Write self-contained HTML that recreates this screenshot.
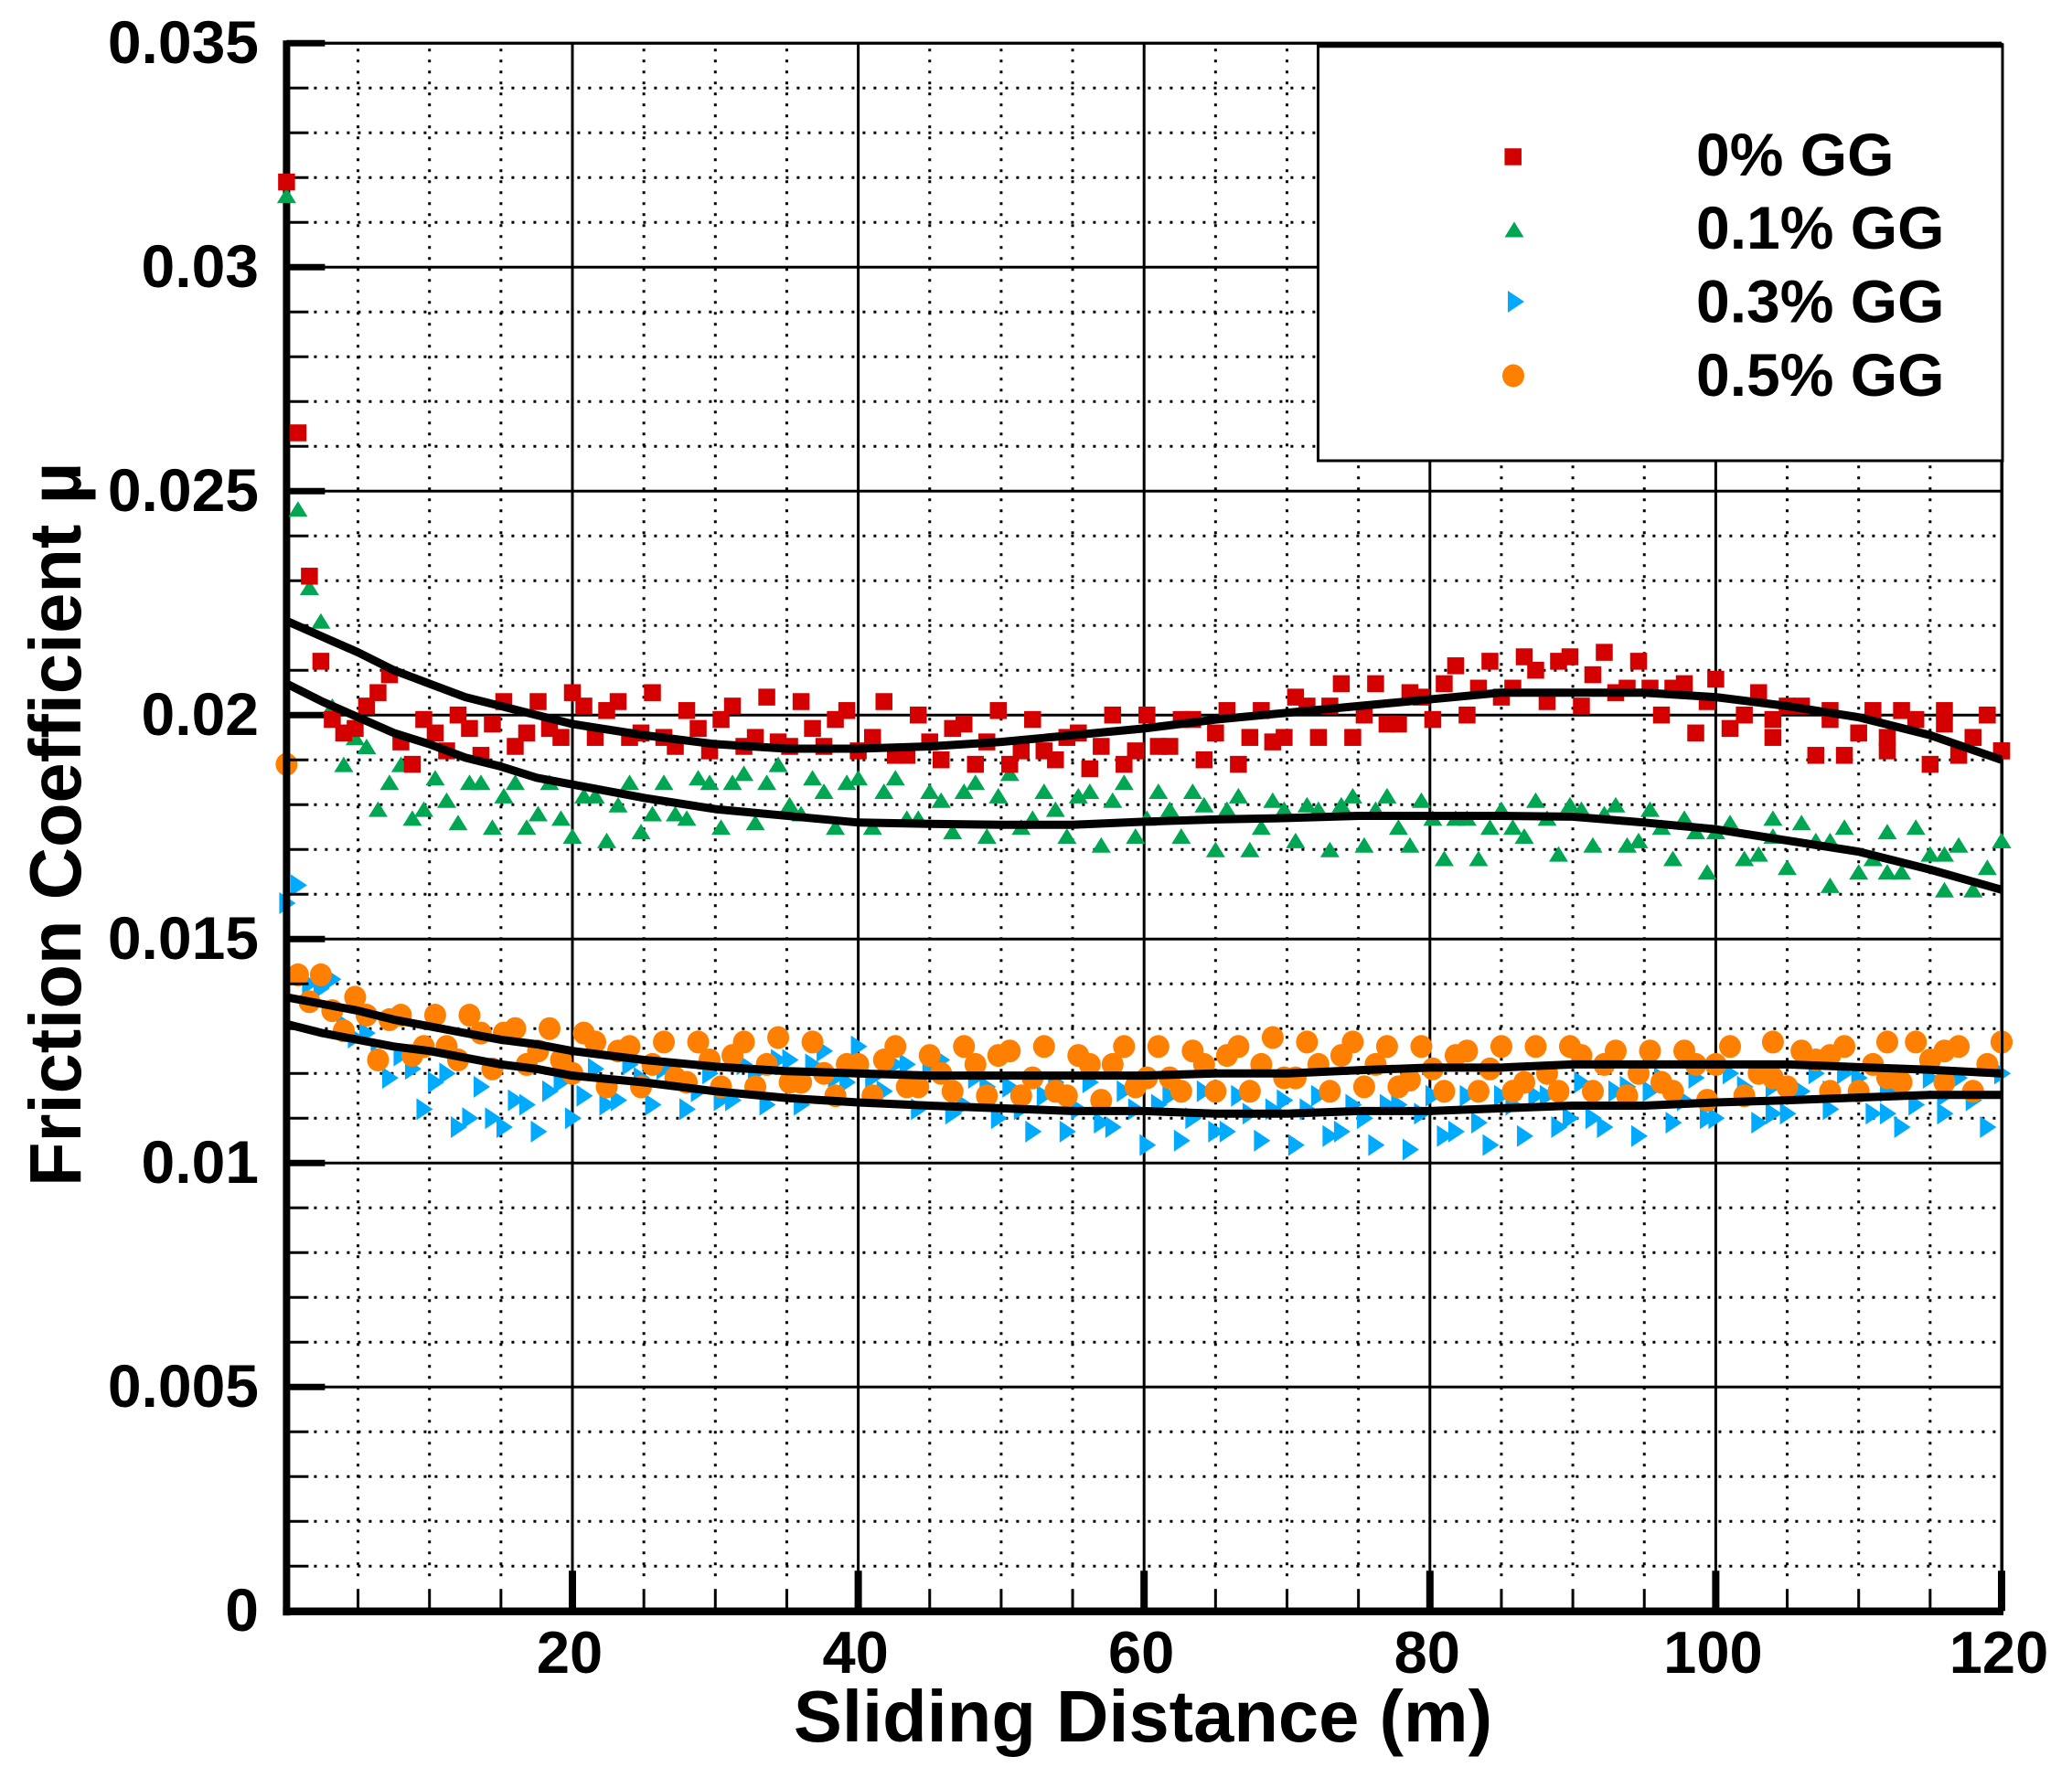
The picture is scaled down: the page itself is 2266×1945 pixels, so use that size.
<!DOCTYPE html>
<html lang="en">
<head>
<meta charset="utf-8">
<title>Friction Coefficient vs Sliding Distance</title>
<style>
html,body{margin:0;padding:0;background:#fff;}
#chart{display:block;width:2266px;height:1945px;font-family:"Liberation Sans",Arial,sans-serif;font-weight:bold;fill:#000;}
</style>
</head>
<body>
<svg id="chart" xmlns="http://www.w3.org/2000/svg" width="2266" height="1945" viewBox="0 0 2266 1945"></svg>
<script>
// Values below are in units of 10^-3 of the friction coefficient.
const distance = [0,0.8,1.6,2.4,3.2,4,4.8,5.6,6.4,7.2,8,8.8,9.6,10.4,11.2,12,12.8,13.6,14.4,15.2,16,16.8,17.6,18.4,19.2,20,20.8,21.6,22.4,23.2,24,24.8,25.6,26.4,27.2,28,28.8,29.6,30.4,31.2,32,32.8,33.6,34.4,35.2,36,36.8,37.6,38.4,39.2,40,
41,41.8,42.6,43.4,44.2,45,45.8,46.6,47.4,48.2,49,49.8,50.6,51.4,52.2,53,53.8,54.6,55.4,56.2,57,57.8,58.6,59.4,60.2,61,61.8,62.6,63.4,64.2,65,65.8,66.6,67.4,68.2,69,69.8,70.6,71.4,72.2,73,73.8,74.6,75.4,76.2,77,77.8,78.6,79.4,80.2,81,81.8,82.6,83.4,84.2,85,85.8,86.6,87.4,88.2,89,89.8,90.6,91.4,92.2,93,93.8,94.6,95.4,96.2,97,97.8,98.6,99.4,
100,101,102,103,104,104,105,106,107,108,108,109,110,111,112,112,113,114,115,116,116,117,118,119,120,120];
const gg0Values = [31.9,26.3,23.1,21.2,19.9,19.6,19.7,20.2,20.5,20.9,
19.4,18.9,19.9,19.6,19.2,20.0,19.7,19.1,19.8,20.3,
19.3,19.6,20.3,19.7,19.5,20.5,20.2,19.5,20.1,20.3,
19.5,19.6,20.5,19.5,19.3,20.1,19.7,19.2,19.9,20.2,
19.3,19.5,20.4,19.4,19.3,20.3,19.7,19.3,19.9,20.1,
19.2,19.5,20.3,19.1,19.1,20.0,19.4,19.0,19.7,19.8,
18.9,19.4,20.1,18.9,19.2,19.9,19.2,19.0,19.5,19.6,
18.8,19.3,20.0,18.9,19.2,20.0,19.3,19.3,19.9,19.9,
19.0,19.6,20.1,18.9,19.5,20.1,19.4,19.5,20.4,20.2,
19.5,20.2,20.7,19.5,20.0,20.7,19.8,19.8,20.5,20.4,
19.9,20.7,21.1,20.0,20.6,21.2,20.4,20.6,21.3,21.0,
20.3,21.2,21.3,20.2,20.9,21.4,20.5,20.6,21.2,20.6,
20.0,20.6,20.7,19.6,20.3,20.8,19.7,20.0,20.5,19.9,
19.5,20.2,20.2,19.1,20.1,19.9,19.1,19.6,20.1,19.5,
19.2,20.1,19.9,18.9,20.1,19.8,19.1,19.5,20.0,19.2,19.2];
const gg01Values = [31.6,24.6,22.85,22.1,20.2,18.9,19.5,19.3,17.9,18.5,
18.9,17.7,17.9,18.6,18.1,17.6,18.5,18.5,17.5,18.2,
18.5,17.5,17.8,18.5,17.7,17.3,18.2,18.2,17.2,18.0,
18.5,17.4,17.8,18.5,17.8,17.7,18.6,18.5,17.5,18.5,
18.7,17.6,18.5,18.9,18.0,17.8,18.6,18.3,17.5,18.5,
18.6,17.5,18.3,18.6,17.7,17.7,18.3,18.1,17.4,18.3,
18.5,17.3,18.2,18.7,17.5,17.7,18.3,17.9,17.3,18.2,
18.3,17.1,18.1,18.5,17.3,17.7,18.3,17.9,17.3,18.3,
18.0,17.0,17.9,18.2,17.0,17.5,18.1,17.9,17.2,18.0,
17.9,17.0,18.0,18.2,17.1,17.9,18.2,17.5,17.1,18.1,
17.7,16.8,17.7,17.7,16.8,17.5,17.9,17.5,17.3,18.1,
17.7,16.9,18.0,17.9,17.1,17.8,18.0,17.1,17.2,17.9,
17.5,16.8,17.7,17.4,16.5,17.4,17.6,16.8,16.9,17.7,
17.3,16.6,17.6,17.2,17.2,16.2,17.5,16.5,16.8,17.4,
16.5,16.5,17.5,16.9,16.9,16.1,17.1,16.1,16.6,17.2,17.2];
const gg03Values = [15.8,16.2,14.0,13.9,14.1,13.1,12.8,12.9,12.4,11.9,
12.4,12.1,11.2,11.8,12.0,10.8,11.0,11.7,11.0,10.8,
11.4,11.3,10.7,11.6,11.8,11.0,11.5,12.1,11.3,11.4,
12.2,11.9,11.3,12.1,12.0,11.2,11.6,12.0,11.4,11.4,
12.2,12.0,11.3,12.3,12.3,11.3,12.2,12.5,11.9,11.8,
12.6,11.9,11.6,12.2,12.2,11.2,12.1,12.3,11.1,11.3,
11.9,11.7,11.0,11.7,11.2,10.7,11.5,11.8,10.7,11.2,
11.8,10.9,10.8,11.6,11.2,10.4,11.3,11.5,10.5,11.0,
11.6,10.7,10.7,11.5,11.1,10.5,11.2,11.4,10.4,11.2,
11.5,10.6,10.7,11.3,11.0,10.4,11.3,11.3,10.3,11.1,
11.5,10.6,10.7,11.5,10.9,10.4,11.5,11.3,10.6,11.5,
11.5,10.8,11.0,11.8,11.0,10.8,11.6,11.7,10.6,11.6,
11.9,10.9,11.4,11.9,11.0,11.0,12.0,11.7,10.9,11.7,
11.1,11.1,11.6,12.0,11.2,11.6,12.0,11.9,11.1,11.6,
11.1,10.8,11.3,11.9,11.1,11.5,11.9,11.4,10.8,12.0,12.0];
const gg05Values = [18.9,14.2,13.6,14.2,13.4,12.95,13.7,13.3,12.3,13.2,
13.3,12.4,12.6,13.3,12.6,12.3,13.3,12.9,12.1,12.9,
13.0,12.2,12.5,13.0,12.3,12.0,12.9,12.7,11.7,12.5,
12.6,11.7,12.2,12.7,11.9,11.8,12.7,12.3,11.7,12.4,
12.7,11.7,12.2,12.8,11.8,11.8,12.7,12.0,11.5,12.2,
12.2,11.5,12.3,12.6,11.7,11.7,12.4,12.0,11.6,12.6,
12.2,11.5,12.4,12.5,11.5,11.9,12.6,11.6,11.5,12.4,
12.2,11.4,12.2,12.6,11.7,11.9,12.6,11.9,11.6,12.5,
12.2,11.6,12.4,12.6,11.6,12.2,12.8,11.9,11.9,12.7,
12.2,11.6,12.4,12.7,11.7,12.2,12.6,11.7,11.85,12.6,
12.1,11.6,12.4,12.5,11.6,12.1,12.6,11.6,11.8,12.6,
12.0,11.6,12.6,12.4,11.6,12.2,12.5,11.5,12.0,12.5,
11.8,11.6,12.5,12.2,11.4,12.2,12.6,11.5,12.0,11.9,
12.7,11.7,12.5,12.3,11.6,12.4,12.6,11.6,12.2,12.7,
11.9,11.8,12.7,12.3,11.8,12.5,12.6,11.6,12.2,12.7,12.7];

const fitDistance = [0,2.5,5,7.5,10,12.5,15,17.5,20,25,30,35,40,45,50,55,60,65,70,75,80,85,90,95,100,105,110,115,120];
const fit0 = [22.1,21.75,21.4,21.0,20.7,20.4,20.2,20.0,19.8,19.55,19.35,19.25,19.25,19.3,19.4,19.55,19.7,19.9,20.05,20.2,20.35,20.5,20.5,20.5,20.4,20.2,19.95,19.55,19.0];
const fit01 = [20.7,20.3,19.95,19.6,19.35,19.05,18.85,18.6,18.45,18.15,17.9,17.75,17.6,17.57,17.55,17.55,17.62,17.67,17.7,17.75,17.75,17.75,17.73,17.6,17.45,17.2,16.95,16.55,16.1];
const fit05 = [13.7,13.55,13.4,13.2,13.05,12.9,12.75,12.65,12.5,12.3,12.15,12.05,12.0,11.95,11.95,11.95,11.95,12.0,12.0,12.07,12.13,12.13,12.2,12.2,12.2,12.2,12.14,12.08,12.0];
const fit03 = [13.1,12.9,12.75,12.6,12.5,12.35,12.2,12.1,11.95,11.8,11.6,11.45,11.35,11.28,11.22,11.16,11.16,11.1,11.1,11.16,11.16,11.22,11.28,11.28,11.35,11.4,11.46,11.52,11.52];

const xMajorTicks = [20,40,60,80,100,120];
const xMinorTicks = [5,10,15,25,30,35,45,50,55,65,70,75,85,90,95,105,110,115];
const yMajorTicks = [0,5,10,15,20,25,30,35];
const yMajorLabels = ['0','0.005','0.01','0.015','0.02','0.025','0.03','0.035'];
const yMinorTicks = [1,2,3,4,6,7,8,9,11,12,13,14,16,17,18,19,21,22,23,24,26,27,28,29,31,32,33,34];
const legendLabels = ['0% GG','0.1% GG','0.3% GG','0.5% GG'];

const NS = 'http://www.w3.org/2000/svg';
const svg = document.getElementById('chart');
const xScale = function (d) { return 313.4 + d * 15.63; };
const yScale = function (m) { return 1762.2 - m * 49; };
const plotLeft = xScale(0), plotRight = xScale(120), plotTop = yScale(35), plotBottom = yScale(0);
const COLORS = ['#d40000', '#00a651', '#00aaff', '#ff7f00'];

function make(tag, parent) {
  const el = document.createElementNS(NS, tag);
  (parent || svg).appendChild(el);
  return el;
}
function setLine(el, x1, y1, x2, y2, w) {
  el.setAttribute('x1', x1);
  el.setAttribute('y1', y1);
  el.setAttribute('x2', x2);
  el.setAttribute('y2', y2);
  el.setAttribute('stroke', '#000');
  el.setAttribute('stroke-width', w);
}
function drawMarker(kind, cx, cy, color, parent) {
  let el;
  if (kind === 'square') {
    el = make('rect', parent);
    el.setAttribute('x', cx - 9.25);
    el.setAttribute('y', cy - 9.25);
    el.setAttribute('width', 18.5);
    el.setAttribute('height', 18.5);
  } else if (kind === 'up') {
    el = make('polygon', parent);
    el.setAttribute('points', (cx - 10.5) + ',' + (cy + 8.5) + ' ' + (cx + 10.5) + ',' + (cy + 8.5) + ' ' + cx + ',' + (cy - 8.5));
  } else if (kind === 'right') {
    el = make('polygon', parent);
    el.setAttribute('points', (cx - 8) + ',' + (cy - 12) + ' ' + (cx - 8) + ',' + (cy + 12) + ' ' + (cx + 10) + ',' + cy);
  } else {
    el = make('ellipse', parent);
    el.setAttribute('cx', cx);
    el.setAttribute('cy', cy);
    el.setAttribute('rx', 12);
    el.setAttribute('ry', 12.5);
  }
  el.setAttribute('fill', color);
  return el;
}

/* ---------- grid ---------- */
const gridGroup = make('g');


xMinorTicks.forEach(function (t) {
  const g = make('line', gridGroup);
  setLine(g, xScale(t), plotTop + 6, xScale(t), plotBottom - 30, 3);
  g.setAttribute('stroke-dasharray', '3 9');
  
  
});
yMinorTicks.forEach(function (t) {
  const g = make('line', gridGroup);
  setLine(g, plotLeft + 30, yScale(t), plotRight - 3, yScale(t), 3);
  g.setAttribute('stroke-dasharray', '3 9');
  
  
});
xMajorTicks.forEach(function (t) {
  const g = make('line', gridGroup);
  setLine(g, xScale(t), plotTop, xScale(t), plotBottom, 3);
  
  
});
yMajorTicks.forEach(function (t) {
  const g = make('line', gridGroup);
  setLine(g, plotLeft, yScale(t), plotRight, yScale(t), 3);
  
  
});

/* ---------- rear series (beneath the axis) ---------- */
function drawSeries(name, kind, values, color) {
  const group = make('g');
  
  
  values.forEach(function (v, i) {
    const m = drawMarker(kind, xScale(distance[i]), yScale(v), color, group);
    
    
  });
}
drawSeries('series-0-3-percent-gg', 'right', gg03Values, COLORS[2]);
drawSeries('series-0-5-percent-gg', 'circle', gg05Values, COLORS[3]);

/* ---------- axes and ticks ---------- */
const axisGroup = make('g');


const leftAxis = make('line', axisGroup);
setLine(leftAxis, plotLeft, plotTop - 3, plotLeft, plotBottom + 5, 8);


const bottomAxis = make('line', axisGroup);
setLine(bottomAxis, plotLeft - 4, plotBottom + 0.5, plotRight + 2, plotBottom + 0.5, 8.5);


const topAxis = make('line', axisGroup);
setLine(topAxis, plotLeft, plotTop, plotRight, plotTop, 3);


const rightAxis = make('line', axisGroup);
setLine(rightAxis, plotRight + 0.6, plotTop, plotRight + 0.6, plotBottom + 3, 3);



yMajorTicks.forEach(function (t) {
  const k = make('line', axisGroup);
  setLine(k, plotLeft, yScale(t), plotLeft + 42, yScale(t), 7);
  
  
});
yMinorTicks.forEach(function (t) {
  const k = make('line', axisGroup);
  setLine(k, plotLeft, yScale(t), plotLeft + 24, yScale(t), 3);
  
  
});
xMajorTicks.forEach(function (t) {
  const k = make('line', axisGroup);
  setLine(k, xScale(t), plotBottom - 44, xScale(t), plotBottom, 8);
  
  
});
xMinorTicks.forEach(function (t) {
  const k = make('line', axisGroup);
  setLine(k, xScale(t), plotBottom - 24, xScale(t), plotBottom, 3);
  
  
});

/* ---------- front series ---------- */
drawSeries('series-0-1-percent-gg', 'up', gg01Values, COLORS[1]);
drawSeries('series-0-percent-gg', 'square', gg0Values, COLORS[0]);

/* ---------- fit curves ---------- */
function drawFit(name, values) {
  const p = make('polyline');
  p.setAttribute('points', values.map(function (v, i) { return xScale(fitDistance[i]) + ',' + yScale(v); }).join(' '));
  p.setAttribute('fill', 'none');
  p.setAttribute('stroke', '#000');
  p.setAttribute('stroke-width', 9);
  p.setAttribute('stroke-linejoin', 'round');
  
  
}
drawFit('fit-curve-0-percent-gg', fit0);
drawFit('fit-curve-0-1-percent-gg', fit01);
drawFit('fit-curve-0-3-percent-gg', fit03);
drawFit('fit-curve-0-5-percent-gg', fit05);

/* ---------- tick labels ---------- */
yMajorTicks.forEach(function (t, i) {
  const label = make('text');
  label.setAttribute('x', 283);
  label.setAttribute('y', yScale(t) + 22);
  label.setAttribute('text-anchor', 'end');
  label.setAttribute('font-size', 66);
  label.textContent = yMajorLabels[i];
  
  
});
xMajorTicks.forEach(function (t) {
  const label = make('text');
  label.setAttribute('x', xScale(t) - 3);
  label.setAttribute('y', 1830);
  label.setAttribute('text-anchor', 'middle');
  label.setAttribute('font-size', 65);
  label.textContent = String(t);
  
  
});

/* ---------- axis titles ---------- */
const xTitle = make('text');
xTitle.setAttribute('x', 1250);
xTitle.setAttribute('y', 1905);
xTitle.setAttribute('text-anchor', 'middle');
xTitle.setAttribute('font-size', 79.5);
xTitle.textContent = 'Sliding Distance (m)';



const yTitle = make('text');
yTitle.setAttribute('transform', 'translate(88,1298) rotate(-90)');
yTitle.setAttribute('font-size', 79.5);
yTitle.textContent = 'Friction Coefficient \u00B5';



/* ---------- legend ---------- */
const legend = make('g');


const legendBox = make('rect', legend);
legendBox.setAttribute('x', 1441.5);
legendBox.setAttribute('y', 49);
legendBox.setAttribute('width', 748.5);
legendBox.setAttribute('height', 455);
legendBox.setAttribute('fill', '#fff');
legendBox.setAttribute('stroke', '#000');
legendBox.setAttribute('stroke-width', 3);


const legendTop = make('line', legend);
setLine(legendTop, 1441.5, 49.5, 2190, 49.5, 5.5);



const legendKinds = ['square', 'up', 'right', 'circle'];
const legendMarkerY = [171.5, 251, 330, 411];
const legendMarkerX = [1654.7, 1656, 1657, 1655];
const legendBaselines = [192, 272, 352.5, 433];
legendLabels.forEach(function (text, i) {
  const m = drawMarker(legendKinds[i], legendMarkerX[i], legendMarkerY[i], COLORS[i], legend);
  
  
  const t = make('text', legend);
  t.setAttribute('x', 1855);
  t.setAttribute('y', legendBaselines[i]);
  t.setAttribute('font-size', 66);
  t.textContent = text;
  
  
});
</script>
</body>
</html>
